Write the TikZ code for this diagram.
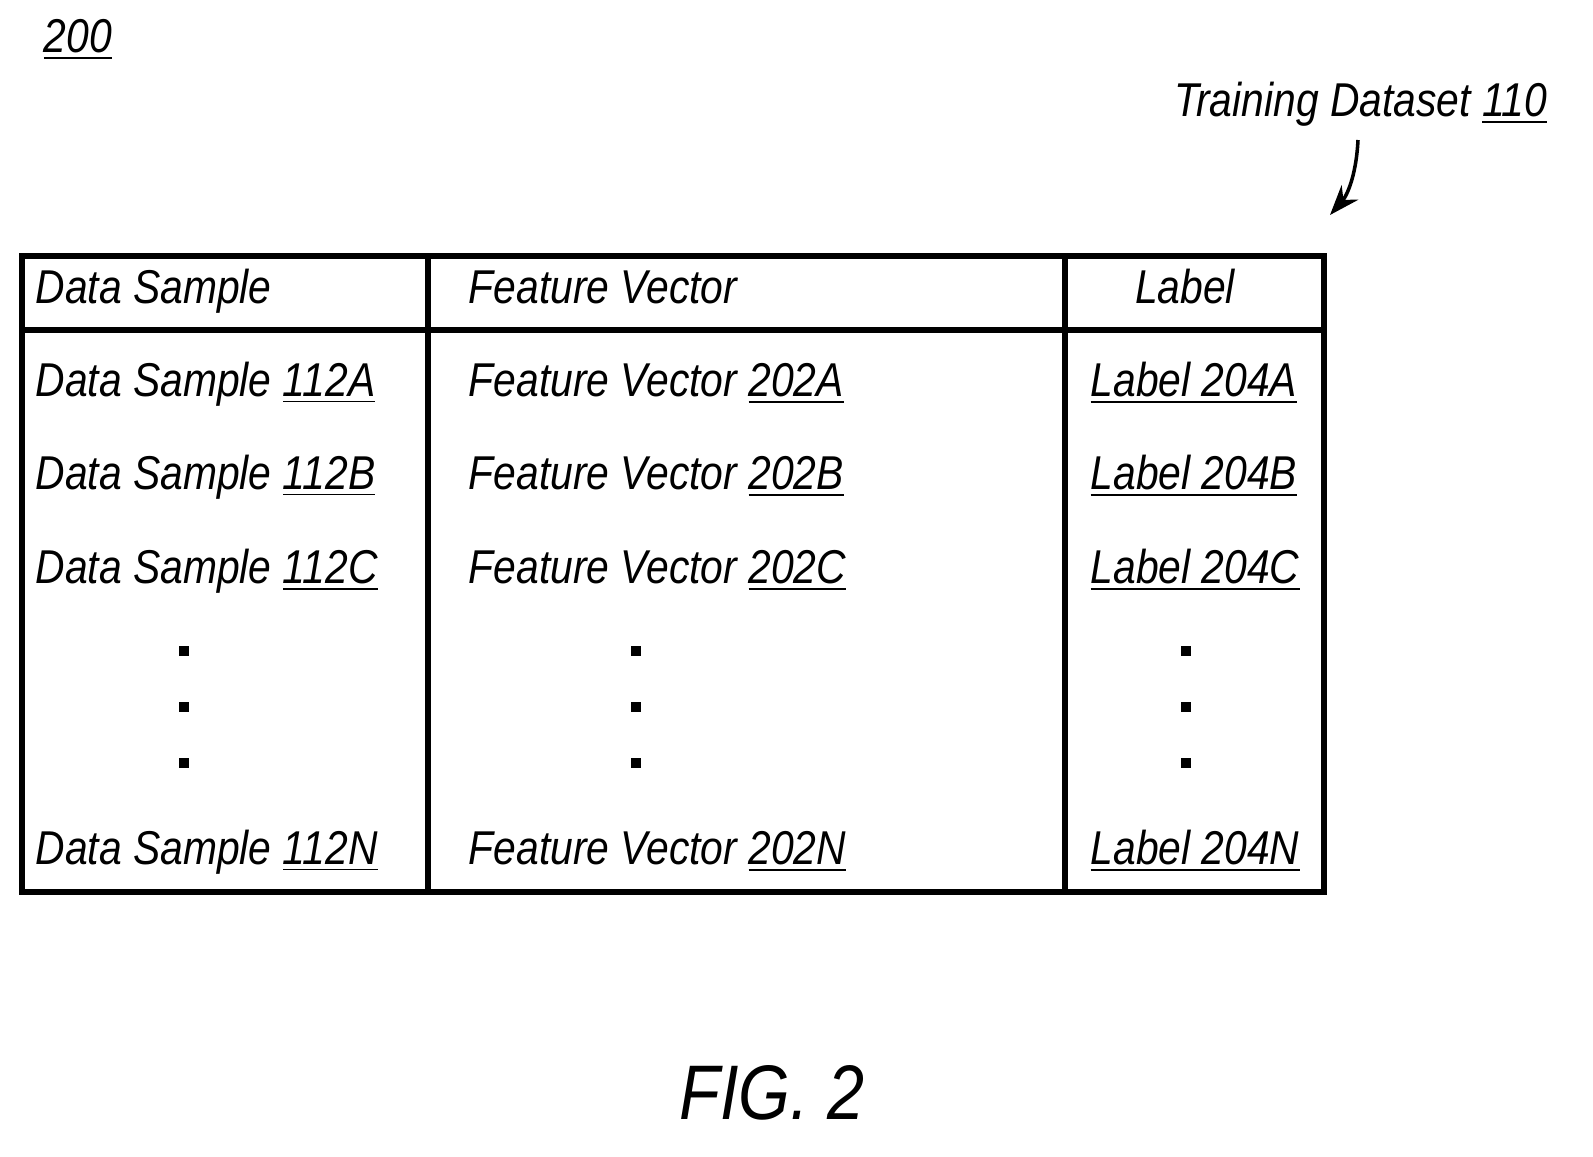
\documentclass[tikz,border=0pt]{standalone}
\usepackage{fontspec}
\setmainfont{Liberation Sans}[FakeStretch=0.86]
\usetikzlibrary{arrows.meta}
\tikzset{
  cell/.style={anchor=west, inner sep=0pt, text height=0.34cm, text depth=0.09cm, font=\fontsize{13.5pt}{16pt}\selectfont\itshape},
  dot/.style={fill=black, minimum width=0.1cm, minimum height=0.1cm, inner sep=0pt},
}
\newcommand{\ul}[1]{\underline{#1}}
\begin{document}
\begin{tikzpicture}[x=0.01cm, y=-0.01cm]
  \useasboundingbox (0,0) rectangle (1593,1157);
  % figure number
  \node[cell, anchor=center] (fignum) at (78,40) {\ul{200}};
  \node[cell, anchor=east] (dataset) at (1548,104) {Training Dataset \ul{110}};
  \coordinate (arrowend) at (1330,215);
  \draw[line width=1pt, -{Stealth[length=0.3cm, width=0.22cm]}] (1358,140) .. controls (1356,180) and (1345,198) .. (arrowend);
  % table frame
  \draw[line width=1.6pt] (22,256) rectangle (1324,892);
  \draw[line width=1.6pt] (22,330) -- (1324,330);
  \draw[line width=1.6pt] (428,256) -- (428,892);
  \draw[line width=1.6pt] (1065,256) -- (1065,892);
  % header
  \node[cell] (hsample) at (35,291) {Data Sample};
  \node[cell] (hvector) at (468,291) {Feature Vector};
  \node[cell, anchor=center] (hlabel) at (1185,291) {Label};
  % rows
  \foreach \r/\y in {A/384, B/477, C/571, N/852} {
    \node[cell] (sample\r) at (35,\y) {Data Sample \ul{112\r}};
    \node[cell] (vector\r) at (468,\y) {Feature Vector \ul{202\r}};
    \node[cell] (label\r) at (1090,\y) {\ul{Label 204\r}};
  }
  % ellipsis dots
  \foreach \x/\c in {184/s, 636/v, 1186/l}
    \foreach \y/\i in {651/1, 707/2, 763/3}
      \node[dot] (dot\c\i) at (\x,\y) {};
  \node[inner sep=0pt, font=\fontsize{22pt}{26pt}\selectfont\itshape] (fig) at (772,1093) {FIG. 2};
\end{tikzpicture}
\end{document}
